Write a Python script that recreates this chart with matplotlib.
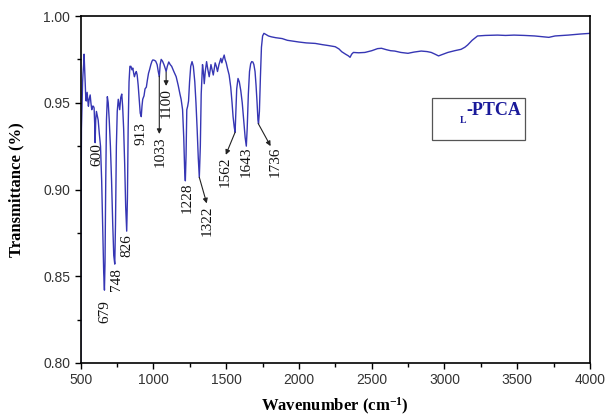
import matplotlib
matplotlib.use("Agg")
import matplotlib.pyplot as plt
from matplotlib.ticker import MultipleLocator
from matplotlib.patches import Rectangle

# spectrum
wavenumber = [500, 502, 505, 509, 513, 516, 520, 523, 527, 531, 535, 538, 544, 549, 553, 558, 565, 570,
              576, 581, 587, 592, 596, 599, 603, 608, 613, 620, 628, 636, 644, 652, 658, 663, 667, 672,
              677, 683, 689, 696, 704, 712, 720, 727, 734, 739, 745, 751, 758, 763, 768, 775, 782, 788,
              795, 802, 809, 816, 821, 826, 832, 838, 845, 852, 858, 864, 869, 876, 882, 888, 895, 902,
              909, 916, 921, 926, 935, 942, 951, 958, 966, 973, 982, 990, 996, 1005, 1015, 1025, 1033,
              1040, 1046, 1053, 1062, 1072, 1080, 1087, 1095, 1105, 1115, 1125, 1140, 1156, 1170, 1182,
              1190, 1200, 1208, 1214, 1219, 1224, 1229, 1235, 1241, 1248, 1256, 1265, 1274, 1284, 1292,
              1300, 1308, 1315, 1322, 1328, 1337, 1343, 1349, 1356, 1365, 1374, 1383, 1390, 1395, 1403,
              1411, 1418, 1424, 1432, 1440, 1450, 1463, 1470, 1476, 1486, 1492, 1500, 1508, 1520, 1531,
              1540, 1547, 1555, 1561, 1566, 1572, 1581, 1590, 1600, 1610, 1620, 1630, 1638, 1644, 1652,
              1660, 1668, 1675, 1683, 1690, 1698, 1705, 1712, 1718, 1722, 1728, 1735, 1742, 1750, 1759,
              1770, 1790, 1810, 1840, 1884, 1920, 1960, 2000, 2050, 2112, 2160, 2200, 2249, 2275, 2294,
              2320, 2340, 2351, 2362, 2374, 2410, 2453, 2500, 2540, 2567, 2600, 2630, 2658, 2700, 2749,
              2790, 2840, 2880, 2909, 2935, 2959, 2990, 3023, 3070, 3114, 3140, 3159, 3190, 3227, 3280,
              3364, 3420, 3478, 3550, 3620, 3680, 3717, 3760, 3850, 3931, 4000]
transmittance = [0.800, 0.880, 0.935, 0.948, 0.962, 0.967, 0.972, 0.978, 0.970, 0.961, 0.952, 0.951,
                 0.956, 0.951, 0.948, 0.952, 0.9545, 0.950, 0.946, 0.948, 0.948, 0.947, 0.938, 0.927,
                 0.940, 0.945, 0.943, 0.940, 0.932, 0.925, 0.905, 0.875, 0.852, 0.842, 0.858, 0.905,
                 0.940, 0.9535, 0.950, 0.940, 0.925, 0.905, 0.880, 0.862, 0.857, 0.880, 0.925, 0.945,
                 0.952, 0.949, 0.946, 0.953, 0.955, 0.948, 0.935, 0.915, 0.890, 0.876, 0.895, 0.935,
                 0.962, 0.971, 0.971, 0.969, 0.970, 0.967, 0.965, 0.967, 0.968, 0.966, 0.960, 0.952,
                 0.944, 0.942, 0.948, 0.952, 0.954, 0.958, 0.959, 0.963, 0.967, 0.969, 0.972, 0.974,
                 0.9747, 0.9745, 0.974, 0.972, 0.968, 0.965, 0.972, 0.975, 0.974, 0.972, 0.970, 0.968,
                 0.971, 0.9735, 0.972, 0.971, 0.968, 0.965, 0.960, 0.955, 0.952, 0.946, 0.930, 0.912,
                 0.905, 0.920, 0.946, 0.948, 0.951, 0.962, 0.971, 0.9737, 0.971, 0.962, 0.950, 0.935,
                 0.918, 0.907, 0.925, 0.955, 0.972, 0.968, 0.961, 0.968, 0.9737, 0.969, 0.965, 0.969,
                 0.972, 0.969, 0.966, 0.970, 0.973, 0.971, 0.968, 0.972, 0.9756, 0.973, 0.975, 0.9775,
                 0.975, 0.973, 0.970, 0.966, 0.959, 0.950, 0.942, 0.936, 0.933, 0.945, 0.958, 0.964,
                 0.962, 0.957, 0.950, 0.940, 0.930, 0.925, 0.935, 0.955, 0.968, 0.9725, 0.9737, 0.9735,
                 0.972, 0.968, 0.960, 0.950, 0.940, 0.938, 0.945, 0.965, 0.982, 0.9885, 0.990, 0.9895,
                 0.9885, 0.988, 0.9875, 0.987, 0.986, 0.9855, 0.985, 0.9845, 0.9842, 0.9835, 0.983,
                 0.9823, 0.981, 0.9794, 0.978, 0.977, 0.9762, 0.978, 0.979, 0.9788, 0.979, 0.980, 0.9812,
                 0.9814, 0.9806, 0.980, 0.9798, 0.979, 0.9785, 0.9792, 0.9798, 0.9795, 0.979, 0.978,
                 0.977, 0.978, 0.979, 0.980, 0.9808, 0.982, 0.9833, 0.986, 0.9885, 0.9888, 0.989, 0.9888,
                 0.989, 0.9888, 0.9885, 0.988, 0.9877, 0.9885, 0.989, 0.9896, 0.990]

# peak labels: text, text position (x, y)
peak_labels = ["600", "679", "748", "826", "913", "1033", "1100", "1228", "1322", "1562", "1643", "1736"]
label_x = [609, 669, 745, 816, 917, 1043, 1090, 1230, 1370, 1492, 1639, 1833]
label_y = [0.920, 0.8294, 0.848, 0.8674, 0.9325, 0.9216, 0.950, 0.895, 0.882, 0.910, 0.916, 0.916]

# arrows: from spectrum -> to label
arrow_from = [(1040, 0.9654), (1087, 0.9677), (1315, 0.907), (1561, 0.933), (1720, 0.938)]
arrow_to = [(1040, 0.932), (1087, 0.9597), (1366, 0.892), (1497, 0.920), (1805, 0.925)]

plt.rcParams["mathtext.fontset"] = "custom"
plt.rcParams["mathtext.rm"] = "Liberation Serif:bold"
plt.rcParams["mathtext.default"] = "rm"

fig = plt.figure(figsize=(6.06, 4.18), dpi=100)
ax = fig.add_axes([0.1332, 0.1316, 0.8404, 0.8301])

ax.plot(wavenumber, transmittance, color="#3636b4", lw=1.0)

for t, x, y in zip(peak_labels, label_x, label_y):
    ax.text(x, y, t, rotation=90, ha="center", va="center", fontsize=11,
            family="Liberation Serif", color="#111111")

for a, b in zip(arrow_from, arrow_to):
    ax.annotate("", xy=b, xytext=a,
                arrowprops=dict(arrowstyle="-|>", color="#222222", lw=0.8, mutation_scale=7,
                                shrinkA=0, shrinkB=0))

# legend-like box
ax.add_patch(Rectangle((0.690, 0.643), 0.182, 0.121, transform=ax.transAxes,
                       fill=False, edgecolor="#555555", lw=0.9))
ax.text(0.757, 0.728, "-PTCA", transform=ax.transAxes, ha="left", va="center",
        fontsize=13, fontweight="bold", family="Liberation Serif", color="#1a1a9a")
ax.text(0.744, 0.700, "L", transform=ax.transAxes, ha="left", va="center",
        fontsize=7, fontweight="bold", family="Liberation Serif", color="#1a1a9a")

ax.set_xlim(500, 4000)
ax.set_ylim(0.80, 1.00)
ax.xaxis.set_major_locator(MultipleLocator(500))
ax.xaxis.set_minor_locator(MultipleLocator(250))
ax.yaxis.set_major_locator(MultipleLocator(0.05))
ax.yaxis.set_minor_locator(MultipleLocator(0.025))
ax.yaxis.set_major_formatter(plt.FormatStrFormatter("%.2f"))
ax.tick_params(which="major", direction="out", length=4, width=1, labelsize=10)
ax.tick_params(which="minor", direction="out", length=3, width=1)
for lab in ax.get_xticklabels() + ax.get_yticklabels():
    lab.set_family("Liberation Sans")
    lab.set_color("#333333")
for s in ax.spines.values():
    s.set_linewidth(1.2)

ax.set_xlabel("Wavenumber (cm$^{-1}$)", family="Liberation Serif", fontweight="bold", fontsize=12)
ax.set_ylabel("Transmittance (%)", family="Liberation Serif", fontweight="bold", fontsize=12)
ax.xaxis.set_label_coords(0.5, -0.095)
ax.yaxis.set_label_coords(-0.11, 0.5)

fig.savefig("out.png", dpi=100)
